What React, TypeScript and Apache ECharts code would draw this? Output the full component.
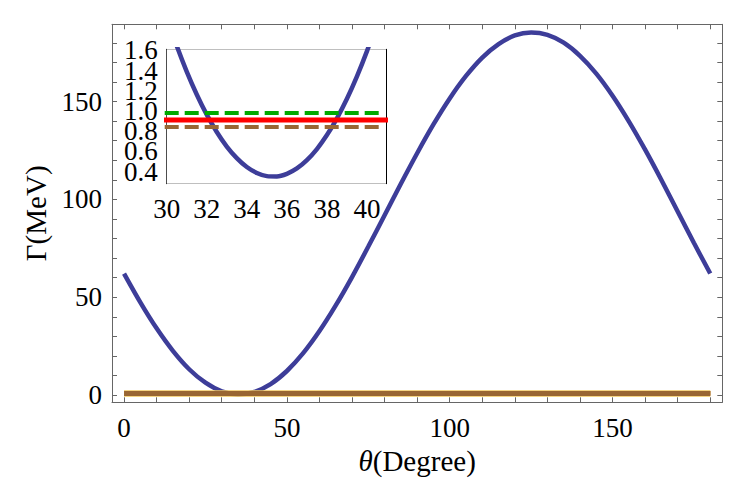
import React, { useEffect, useRef } from "react";
import * as echarts from "echarts";

// Main curve: Γ (MeV) versus θ (degree)
const mainTheta = [0, 5, 10, 15, 20, 25, 30, 35, 40, 45, 50, 55, 60, 65, 70, 75, 80, 85, 90, 95, 100, 105, 110, 115, 120, 125, 130, 135, 140, 145, 150, 155, 160, 165, 170, 175, 180];
const mainGamma = [62.1, 47.4, 34.1, 22.6, 13.2, 6.3, 1.9, 0.36, 1.6, 5.6, 12.3, 21.4, 32.7, 45.8, 60.3, 75.9, 91.9, 108.0, 123.6, 138.3, 151.6, 163.1, 172.5, 179.4, 183.8, 185.3, 184.1, 180.1, 173.4, 164.3, 153.0, 139.9, 125.4, 109.9, 93.8, 77.7, 62.1];

// Inset (zoom near the minimum)
const insetTheta = [30, 30.5, 31, 31.5, 32, 32.5, 33, 33.5, 34, 34.5, 35, 35.5, 36, 36.5, 37, 37.5, 38, 38.5, 39, 39.5, 40, 40.5];
const insetGamma = [1.928, 1.645, 1.39, 1.163, 0.963, 0.792, 0.648, 0.533, 0.445, 0.386, 0.355, 0.352, 0.378, 0.431, 0.513, 0.623, 0.761, 0.927, 1.12, 1.342, 1.592, 1.87];

// Horizontal reference levels
const levelGreen = 0.98;
const levelRed = 0.91;
const levelBrown = 0.84;

// Tick labels
const mainXLabels = [0, 50, 100, 150];
const mainYLabels = [0, 50, 100, 150];
const insetXLabels = [30, 32, 34, 36, 38, 40];
const insetYLabelsA = [0.4, 0.8, 1.2, 1.6];
const insetYLabelsB = [0.6, 1.0, 1.4];

function range(a: number, b: number, step: number): number[] {
  const out: number[] = [];
  const n = Math.round((b - a) / step);
  for (let i = 0; i <= n; i++) out.push(Math.round((a + i * step) * 1000) / 1000);
  return out;
}

const mainXTicks = range(0, 180, 10);
const mainYTicks = range(0, 180, 10);
const insetXTicks = range(30, 40.5, 0.5);
const insetYTicks = range(0.3, 1.6, 0.05);

const FONT = "'Liberation Serif', 'Times New Roman', serif";
const FRAME = "#666666";

export default function App() {
  const ref = useRef<HTMLDivElement>(null);
  useEffect(() => {
    if (!ref.current) return;
    const chart = echarts.init(ref.current, undefined, { renderer: "svg" });

    const zip = (xs: number[], ys: number[]) => xs.map((x, i) => [x, ys[i]]);

    const axisBase = (color: string) => ({
      type: "value" as const,
      splitLine: { show: false },
      axisLine: { show: true, onZero: false, lineStyle: { color, width: 1 } },
    });

    const labelBase = {
      fontSize: 27,
      fontFamily: FONT,
      color: "#000",
      showMinLabel: true,
      showMaxLabel: true,
      hideOverlap: false,
    };

    const insetYLabelAxis = (labels: number[]) => ({
      type: "value",
      gridIndex: 1,
      position: "left",
      min: 0.28,
      max: 1.61,
      splitLine: { show: false },
      axisLine: { show: false, onZero: false },
      axisTick: { show: false },
      axisLabel: {
        ...labelBase,
        show: true,
        customValues: labels,
        margin: 9,
        formatter: (v: number) => v.toFixed(1),
      },
    });

    const option: any = {
      animation: false,
      backgroundColor: "#ffffff",
      grid: [
        { left: 112, top: 24.3, width: 610.3, height: 378 },
        { left: 166.7, top: 49.3, width: 219.3, height: 134.4, show: true, backgroundColor: "#ffffff", borderWidth: 0, z: 5 },
      ],
      xAxis: [
        {
          ...axisBase(FRAME),
          gridIndex: 0,
          position: "bottom",
          min: -3.7,
          max: 183.7,
          axisTick: { show: true, inside: true, length: 5, customValues: mainXTicks, lineStyle: { color: FRAME } },
          axisLabel: { ...labelBase, show: true, customValues: mainXLabels, margin: 12 },
          name: "{i|θ}(Degree)",
          nameLocation: "middle",
          nameGap: 34,
          nameTextStyle: {
            fontSize: 29,
            fontFamily: FONT,
            color: "#000",
            rich: { i: { fontStyle: "italic", fontSize: 29, fontFamily: FONT, color: "#000" } },
          },
        },
        {
          ...axisBase(FRAME),
          gridIndex: 0,
          position: "top",
          min: -3.7,
          max: 183.7,
          axisTick: { show: true, inside: true, length: 5, customValues: mainXTicks, lineStyle: { color: FRAME } },
          axisLabel: { show: false },
        },
        {
          ...axisBase("#000"),
          gridIndex: 1,
          position: "bottom",
          min: 30,
          max: 40.95,
          axisTick: { show: true, inside: true, length: 4, customValues: insetXTicks, lineStyle: { color: "#000" } },
          axisLabel: { ...labelBase, show: true, customValues: insetXLabels, margin: 12 },
        },
        {
          ...axisBase("#000"),
          gridIndex: 1,
          position: "top",
          min: 30,
          max: 40.95,
          axisTick: { show: true, inside: true, length: 4, customValues: insetXTicks, lineStyle: { color: "#000" } },
          axisLabel: { show: false },
        },
      ],
      yAxis: [
        {
          ...axisBase(FRAME),
          gridIndex: 0,
          position: "left",
          min: -3.7,
          max: 189.5,
          axisTick: { show: true, inside: true, length: 5, customValues: mainYTicks, lineStyle: { color: FRAME } },
          axisLabel: { ...labelBase, show: true, customValues: mainYLabels, margin: 10 },
          name: "Γ(MeV)",
          nameLocation: "middle",
          nameGap: 50,
          nameTextStyle: { fontSize: 29, fontFamily: FONT, color: "#000" },
        },
        {
          ...axisBase(FRAME),
          gridIndex: 0,
          position: "right",
          min: -3.7,
          max: 189.5,
          axisTick: { show: true, inside: true, length: 5, customValues: mainYTicks, lineStyle: { color: FRAME } },
          axisLabel: { show: false },
        },
        {
          ...axisBase("#000"),
          gridIndex: 1,
          position: "left",
          min: 0.28,
          max: 1.61,
          axisTick: { show: true, inside: true, length: 4, customValues: insetYTicks, lineStyle: { color: "#000" } },
          axisLabel: { show: false },
        },
        {
          ...axisBase("#000"),
          gridIndex: 1,
          position: "right",
          min: 0.28,
          max: 1.61,
          axisTick: { show: true, inside: true, length: 4, customValues: insetYTicks, lineStyle: { color: "#000" } },
          axisLabel: { show: false },
        },
        insetYLabelAxis(insetYLabelsA),
        insetYLabelAxis(insetYLabelsB),
      ],
      series: [
        {
          type: "line",
          xAxisIndex: 0,
          yAxisIndex: 0,
          data: zip(mainTheta, mainGamma),
          smooth: 0.3,
          showSymbol: false,
          lineStyle: { color: "#3d3d99", width: 4.5 },
          z: 2,
        },
        {
          type: "line",
          xAxisIndex: 0,
          yAxisIndex: 0,
          data: [[0, levelGreen], [180, levelGreen]],
          showSymbol: false,
          lineStyle: { color: "#00aa00", width: 4.5 },
          z: 3,
        },
        {
          type: "line",
          xAxisIndex: 0,
          yAxisIndex: 0,
          data: [[0, levelRed], [180, levelRed]],
          showSymbol: false,
          lineStyle: { color: "#ff0000", width: 4.5 },
          z: 3,
        },
        {
          type: "line",
          xAxisIndex: 0,
          yAxisIndex: 0,
          data: [[0, levelBrown], [180, levelBrown]],
          showSymbol: false,
          lineStyle: { color: "#f2c65a", width: 6.5 },
          z: 3,
        },
        {
          type: "line",
          xAxisIndex: 0,
          yAxisIndex: 0,
          data: [[0, levelBrown], [180, levelBrown]],
          showSymbol: false,
          lineStyle: { color: "#996633", width: 5 },
          z: 3,
        },
        {
          type: "line",
          xAxisIndex: 2,
          yAxisIndex: 2,
          data: zip(insetTheta, insetGamma),
          smooth: 0.3,
          showSymbol: false,
          clip: true,
          lineStyle: { color: "#3d3d99", width: 4.5 },
          z: 6,
        },
        {
          type: "line",
          xAxisIndex: 2,
          yAxisIndex: 2,
          data: [[29.9, levelGreen], [40.6, levelGreen]],
          showSymbol: false,
          clip: false,
          lineStyle: { color: "#00aa00", width: 4, type: [14, 6] },
          z: 7,
        },
        {
          type: "line",
          xAxisIndex: 2,
          yAxisIndex: 2,
          data: [[29.7, levelRed], [41.05, levelRed]],
          showSymbol: false,
          clip: false,
          lineStyle: { color: "#ff0000", width: 5 },
          z: 7,
        },
        {
          type: "line",
          xAxisIndex: 2,
          yAxisIndex: 2,
          data: [[29.9, levelBrown], [40.6, levelBrown]],
          showSymbol: false,
          clip: false,
          lineStyle: { color: "#996633", width: 4, type: [14, 6] },
          z: 7,
        },
      ],
    };

    chart.setOption(option);
    return () => chart.dispose();
  }, []);

  return (
    <div
      ref={ref}
      style={{ position: "fixed", left: 0, top: 0, width: 747, height: 502, background: "#fff" }}
    />
  );
}
